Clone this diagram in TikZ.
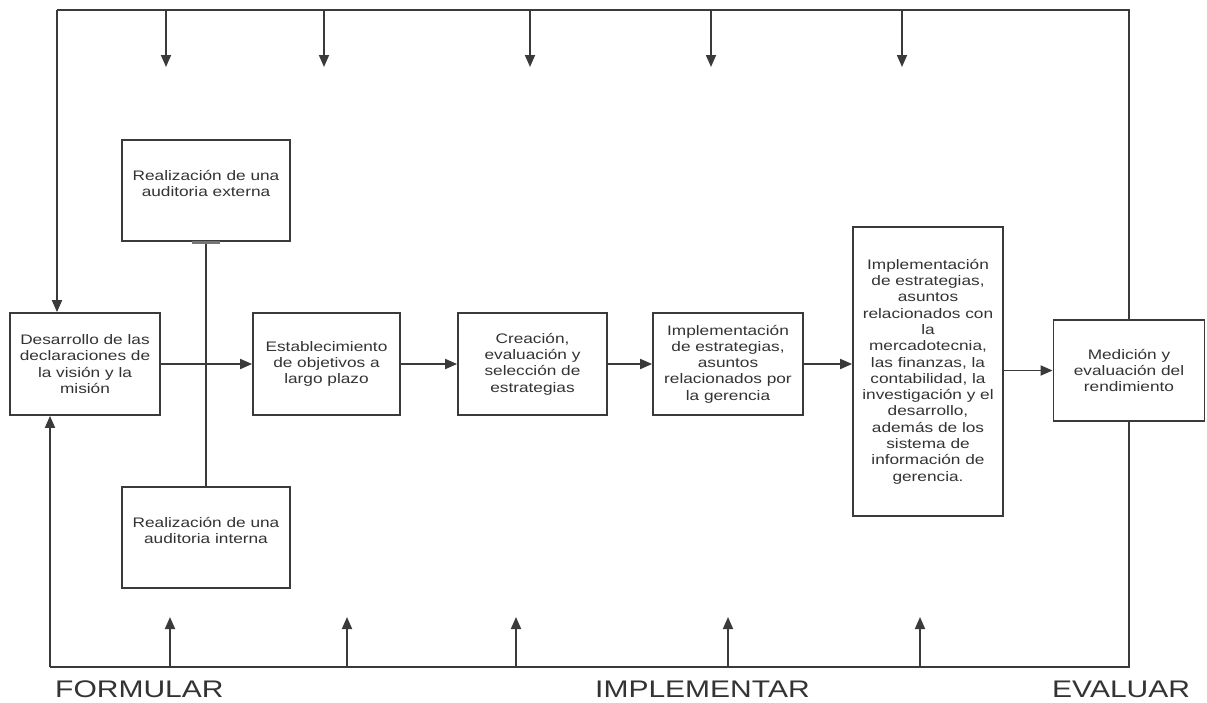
\documentclass[tikz,border=0pt]{standalone}
\usepackage{fontspec}
\setmainfont{Liberation Sans}[FakeStretch=1.25]
\usepackage{tikz}
\usetikzlibrary{positioning, arrows.meta, calc}

\definecolor{linegray}{HTML}{3A3A3A}
\definecolor{textgray}{HTML}{333333}

\tikzset{
    box/.style={draw=linegray, line width=1.8pt, fill=white, align=center, text=textgray,
        font=\fontsize{13.8pt}{16.3pt}\selectfont, inner sep=2pt},
    arr/.style={draw=linegray, line width=1.8pt, -{Triangle[length=12pt,width=10pt]}},
    wire/.style={draw=linegray, line width=1.8pt},
    phase/.style={text=textgray, font=\fontsize{24pt}{27pt}\selectfont, inner sep=0pt}
}

\begin{document}
\begin{tikzpicture}[x=1pt, y=-1pt]
    \useasboundingbox (0,0) rectangle (1207,702);

    % Corners of the feedback loop
    \coordinate (tl) at (57,10);
    \coordinate (bl) at (50,667);

    % Audits
    \node[box, minimum width=168pt, minimum height=101pt] (ext) at (206,190.5)
        {Realización de una\\auditoria externa\\[-2pt]};
    \node[box, minimum width=168pt, minimum height=101pt] (int) at (206,537.5)
        {Realización de una\\auditoria interna\\[-2pt]};
    \draw[wire] (ext.south) -- (int.north);
    \draw[draw=linegray!70, line width=3pt] ($(ext.south)+(-14,1)$) -- ($(ext.south)+(14,1)$);

    % Main chain
    \node[box, minimum width=150pt, minimum height=102pt] (vision) at (85,364)
        {Desarrollo de las\\declaraciones de\\la visión y la\\misión};
    \node[box, minimum width=147pt, minimum height=102pt] (objetivos) at (326.5,364)
        {Establecimiento\\de objetivos a\\largo plazo};
    \node[box, minimum width=149pt, minimum height=102pt] (creacion) at (532.5,364)
        {Creación,\\evaluación y\\selección de\\estrategias};
    \node[box, minimum width=150pt, minimum height=102pt] (gerencia) at (728,364)
        {Implementación\\de estrategias,\\asuntos\\relacionados por\\la gerencia};
    \node[box, minimum width=150pt, minimum height=289pt] (areas) at (928,371.5)
        {Implementación\\de estrategias,\\asuntos\\relacionados con\\la\\mercadotecnia,\\las finanzas, la\\contabilidad, la\\investigación y el\\desarrollo,\\además de los\\sistema de\\información de\\gerencia.};
    \node[box, minimum width=151pt, minimum height=101pt] (medicion) at (1129,370.5)
        {Medición y\\evaluación del\\rendimiento};

    \draw[arr] (vision) -- (objetivos);
    \draw[arr] (objetivos) -- (creacion);
    \draw[arr] (creacion) -- (gerencia);
    \draw[arr] (gerencia.east) -- (areas.west |- gerencia.east);
    \draw[arr] (areas.east |- medicion.west) -- (medicion.west);

    % Feedback loop
    \draw[wire] (medicion.north) |- (tl);
    \draw[arr] (tl) -- (tl |- vision.north);
    \draw[wire] (medicion.south) |- (bl);
    \draw[arr] (bl) -- (bl |- vision.south);

    % Arrows from the top and from the bottom
    \foreach \x in {166,324,530,711,902}
        \draw[arr] (\x,10) -- (\x,67);
    \foreach \x in {170,347,516,728,920}
        \draw[arr] (\x,667) -- (\x,617);

    % Phases
    \node[phase, anchor=west] (formular) at (55,689) {FORMULAR};
    \node[phase, anchor=west] (implementar) at (595,689) {IMPLEMENTAR};
    \node[phase, anchor=west] (evaluar) at (1052,689) {EVALUAR};
\end{tikzpicture}
\end{document}
